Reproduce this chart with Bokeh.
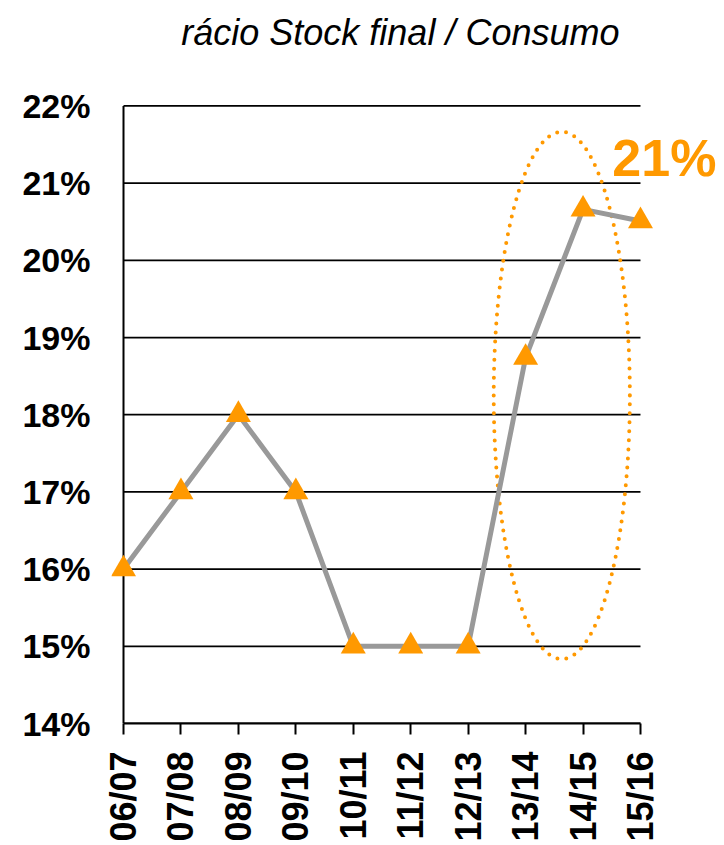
from math import pi
from bokeh.plotting import figure
from bokeh.models import Range1d, FixedTicker, NumeralTickFormatter, Label
from bokeh.embed import file_html
from bokeh.resources import INLINE

# ---- data ----
campaigns = ["06/07", "07/08", "08/09", "09/10", "10/11", "11/12", "12/13", "13/14", "14/15", "15/16"]
ratio = [0.16, 0.17, 0.18, 0.17, 0.15, 0.15, 0.15, 0.1874, 0.2066, 0.2051]
y_ticks = [0.14, 0.15, 0.16, 0.17, 0.18, 0.19, 0.20, 0.21, 0.22]
title_text = "rácio Stock final / Consumo"
highlight_text = "21%"

ORANGE = "#FF9900"
GREY = "#999999"
FONT = "Liberation Sans"

xs = list(range(len(campaigns)))

# frame extends beyond the plotted span so edge markers, the title and the
# "21%" callout are not clipped
X_START, X_END = -0.209, 10.393
Y_START, Y_END = 0.14, 0.23366

p = figure(width=720, height=844, output_backend="svg", toolbar_location=None,
           x_range=Range1d(X_START, X_END), y_range=Range1d(Y_START, Y_END),
           min_border_left=111, min_border_right=0, min_border_top=0, min_border_bottom=117)
p.outline_line_color = None
p.background_fill_color = "white"
p.border_fill_color = "white"

# grid and left axis line (drawn only across the data span)
p.xgrid.visible = False
p.ygrid.visible = False
p.segment(x0=[xs[0]] * len(y_ticks), x1=[xs[-1]] * len(y_ticks), y0=y_ticks, y1=y_ticks,
          line_color="black", line_width=1.8)
p.segment(x0=[xs[0]], x1=[xs[0]], y0=[y_ticks[0]], y1=[y_ticks[-1]],
          line_color="black", line_width=2)

# y axis
p.yaxis.ticker = FixedTicker(ticks=y_ticks)
p.yaxis.formatter = NumeralTickFormatter(format="0%")
p.yaxis.axis_line_color = None
p.yaxis.major_tick_line_color = None
p.yaxis.major_tick_out = 0
p.yaxis.major_tick_in = 0
p.yaxis.minor_tick_line_color = None
p.yaxis.major_label_text_font = FONT
p.yaxis.major_label_text_font_style = "bold"
p.yaxis.major_label_text_font_size = "34px"
p.yaxis.major_label_text_color = "black"
p.yaxis.major_label_standoff = 21

# x axis
p.xaxis.ticker = FixedTicker(ticks=xs)
p.xaxis.bounds = (xs[0], xs[-1])
p.xaxis.major_label_overrides = {i: c for i, c in zip(xs, campaigns)}
p.xaxis.major_label_orientation = pi / 2
p.xaxis.axis_line_color = "black"
p.xaxis.axis_line_width = 2
p.xaxis.major_tick_line_color = "black"
p.xaxis.major_tick_line_width = 2
p.xaxis.major_tick_out = 11
p.xaxis.major_tick_in = 0
p.xaxis.minor_tick_line_color = None
p.xaxis.major_label_text_font = FONT
p.xaxis.major_label_text_font_style = "bold"
p.xaxis.major_label_text_font_size = "36px"
p.xaxis.major_label_text_color = "black"
p.xaxis.major_label_standoff = 17

# highlight ellipse
p.ellipse(x=[7.63], y=[0.1825], width=2.37, height=0.0683, fill_color=None,
          line_color=ORANGE, line_width=4, line_dash="0 9", line_cap="round")

# series
p.line(xs, ratio, line_color=GREY, line_width=5)
p.scatter(xs, ratio, marker="triangle", size=25, fill_color=ORANGE, line_color=None)

# title and callout
p.add_layout(Label(x=4.82, y=0.2295, text=title_text, text_align="center",
                   text_baseline="alphabetic", text_font=FONT, text_font_style="italic",
                   text_font_size="36px", text_color="black"))
p.add_layout(Label(x=8.51, y=0.2132, text=highlight_text, text_align="left",
                   text_baseline="alphabetic", text_font=FONT, text_font_style="bold",
                   text_font_size="52px", text_color=ORANGE))

open("out.html", "w").write(file_html(p, INLINE))
